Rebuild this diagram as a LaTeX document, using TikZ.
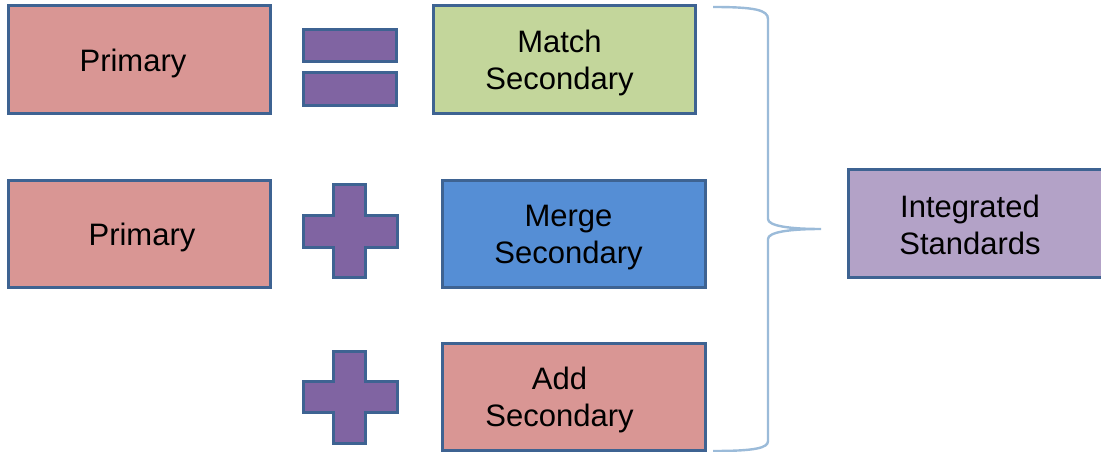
\documentclass[tikz,border=0pt]{standalone}
\usepackage{fontspec}
\setmainfont{Liberation Sans}
\definecolor{edge}{HTML}{3E6392}
\definecolor{pinkfill}{HTML}{D99694}
\definecolor{greenfill}{HTML}{C3D69B}
\definecolor{bluefill}{HTML}{558ED5}
\definecolor{lilacfill}{HTML}{B3A2C7}
\definecolor{opfill}{HTML}{8064A2}
\definecolor{bracecol}{HTML}{9BBBD9}
\tikzset{
  box/.style={draw=edge, line width=3pt, rectangle,
    minimum width=#1, minimum height=107pt, inner sep=0pt},
  box/.default=262pt,
  label text/.style={align=center, inner sep=0pt, text=black,
    font=\fontsize{31}{37}\selectfont},
  opsign/.style={draw=edge, line width=3pt, fill=opfill},
  bracket/.style={draw=bracecol, line width=2.4pt}
}
\begin{document}
\begin{tikzpicture}[x=1pt, y=-1pt]
  \useasboundingbox (0,0) rectangle (1101,452);
  \clip (0,0) rectangle (1101,452);

  % left column
  \node[box, fill=pinkfill] (prim1) at (139,59.5) {};
  \node[label text] (prim1t) at (133,63) {Primary};
  \node[box, fill=pinkfill] (prim2) at (139,233.5) {};
  \node[label text] (prim2t) at (142,237) {Primary};

  % operators
  \path[opsign] (303,30) rectangle (396,62);
  \path[opsign] (303,73) rectangle (396,105);
  \path[opsign] (333,184) -- (365,184) -- (365,215) -- (397,215) -- (397,247)
    -- (365,247) -- (365,277) -- (333,277) -- (333,247) -- (303,247)
    -- (303,215) -- (333,215) -- cycle;
  \path[opsign] (333,351) -- (365,351) -- (365,381) -- (397,381) -- (397,412)
    -- (365,412) -- (365,443) -- (333,443) -- (333,412) -- (303,412)
    -- (303,381) -- (333,381) -- cycle;

  % secondary column
  \node[box, fill=greenfill] (match) at (564,59.5) {};
  \node[label text] (matcht) at (559.5,63) {Match\\Secondary};
  \node[box=263pt, fill=bluefill] (merge) at (573.5,233.5) {};
  \node[label text] (merget) at (568.5,237.5) {Merge\\Secondary};
  \node[box=263pt, fill=pinkfill] (add) at (573.5,396.5) {};
  \node[label text] (addt) at (559.5,400) {Add\\Secondary};

  % brace
  \coordinate (btop) at (713,7);
  \coordinate (btip) at (821,229);
  \coordinate (bbot) at (713,451);
  \draw[bracket] (btop) .. controls (755,7) and (768,10) .. (768,19)
    -- (768,219) .. controls (768,226) and (790,229) .. (btip)
    .. controls (790,229) and (768,232) .. (768,239)
    -- (768,441) .. controls (768,448) and (755,451) .. (bbot);

  % result
  \draw[draw=edge, line width=3pt, fill=lilacfill] (848,169) rectangle (1115,277);
  \node[label text] (integ) at (970,225) {Integrated\\Standards};
\end{tikzpicture}
\end{document}
